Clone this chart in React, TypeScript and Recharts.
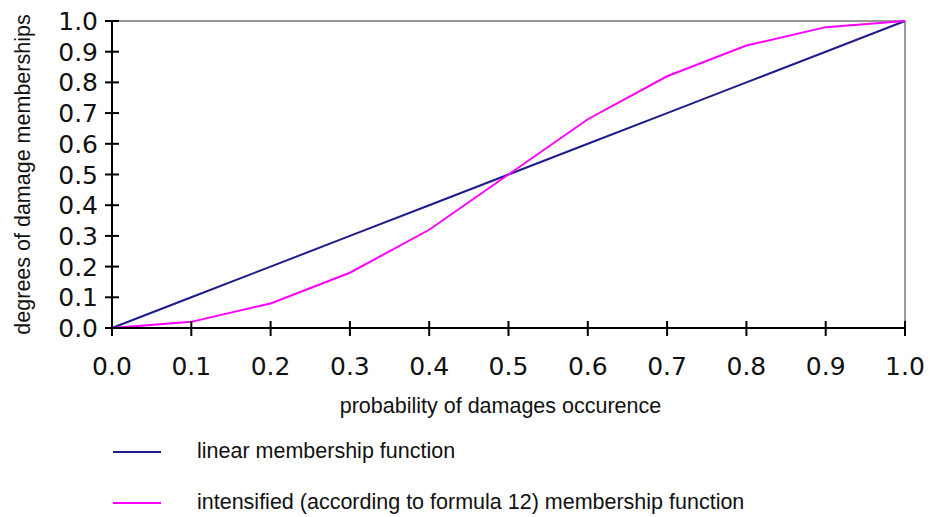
import React from 'react'
import { LineChart, Line, XAxis, YAxis, Label, Legend, ReferenceLine } from 'recharts'

const probability = [0, 0.1, 0.2, 0.3, 0.4, 0.5, 0.6, 0.7, 0.8, 0.9, 1.0]
const linear = [0, 0.1, 0.2, 0.3, 0.4, 0.5, 0.6, 0.7, 0.8, 0.9, 1.0]
const intensified = [0, 0.02, 0.08, 0.18, 0.32, 0.5, 0.68, 0.82, 0.92, 0.98, 1.0]
const ticks = [0, 0.1, 0.2, 0.3, 0.4, 0.5, 0.6, 0.7, 0.8, 0.9, 1.0]

const data = probability.map((p, i) => ({ p, linear: linear[i], intensified: intensified[i] }))

const NAVY = '#1c1c8a'
const PINK = '#ff00ff'
const TICK_FONT = 'DejaVu Sans, Verdana, sans-serif'
const LABEL_FONT = 'Liberation Sans, Arial, sans-serif'

const PLOT_LEFT = 112
const PLOT_BOTTOM = 328

const YTick = (props: any) => {
    const { y, payload } = props
    return (
        <g>
            <line x1={PLOT_LEFT - 7} x2={PLOT_LEFT + 7} y1={y} y2={y} stroke="#000" strokeWidth={2} />
            <text x={PLOT_LEFT - 14} y={y} dy="0.36em" textAnchor="end" fontSize={25} fontFamily={TICK_FONT} fill="#111">
                {payload.value.toFixed(1)}
            </text>
        </g>
    )
}

const XTick = (props: any) => {
    const { x, payload } = props
    return (
        <g>
            <line x1={x} x2={x} y1={PLOT_BOTTOM - 7} y2={PLOT_BOTTOM + 8} stroke="#000" strokeWidth={2} />
            <text x={x} y={366} dy="0.36em" textAnchor="middle" fontSize={25} fontFamily={TICK_FONT} fill="#111">
                {payload.value.toFixed(1)}
            </text>
        </g>
    )
}

const LegendContent = () => (
    <div style={{ position: 'relative', height: 80, fontFamily: LABEL_FONT, fontSize: 21.5, color: '#111' }}>
        {[
            { name: 'linear membership function', color: NAVY, top: 21 },
            { name: 'intensified (according to formula 12) membership function', color: PINK, top: 72 },
        ].map((item) => (
            <div key={item.name} style={{ position: 'absolute', left: 113, top: item.top, display: 'flex', alignItems: 'center', whiteSpace: 'nowrap' }}>
                <span style={{ display: 'inline-block', width: 48, height: 2, background: item.color, marginRight: 36 }} />
                <span>{item.name}</span>
            </div>
        ))}
    </div>
)

export default function App() {
    return (
        <div style={{ background: '#fff', width: 930, height: 517 }}>
            <style>{'body{margin:0}'}</style>
            <LineChart width={930} height={517} data={data} margin={{ top: 21, right: 25, bottom: 19, left: 0 }}>
                <XAxis
                    dataKey="p"
                    type="number"
                    domain={[0, 1]}
                    ticks={ticks}
                    height={90}
                    tickLine={false}
                    tick={<XTick />}
                    axisLine={{ stroke: '#000', strokeWidth: 2 }}
                    interval={0}
                >
                    <Label
                        value="probability of damages occurence"
                        position="insideBottom"
                        offset={5}
                        dx={-8}
                        style={{ fontSize: 21.5, fontFamily: LABEL_FONT, fill: '#111' }}
                    />
                </XAxis>
                <YAxis
                    type="number"
                    domain={[0, 1]}
                    ticks={ticks}
                    width={112}
                    tickLine={false}
                    tick={<YTick />}
                    axisLine={{ stroke: '#000', strokeWidth: 2 }}
                    interval={0}
                >
                    <Label
                        value="degrees of damage memberships"
                        angle={-90}
                        position="insideLeft"
                        offset={22}
                        style={{ textAnchor: 'middle', fontSize: 21.5, fontFamily: LABEL_FONT, fill: '#111' }}
                    />
                </YAxis>
                <ReferenceLine y={1} stroke="#999" strokeWidth={2} />
                <ReferenceLine x={1} stroke="#999" strokeWidth={2} />
                <Legend verticalAlign="bottom" height={80} content={<LegendContent />} />
                <Line dataKey="linear" stroke={NAVY} strokeWidth={2} dot={false} isAnimationActive={false} />
                <Line dataKey="intensified" stroke={PINK} strokeWidth={2} dot={false} isAnimationActive={false} />
            </LineChart>
        </div>
    )
}
